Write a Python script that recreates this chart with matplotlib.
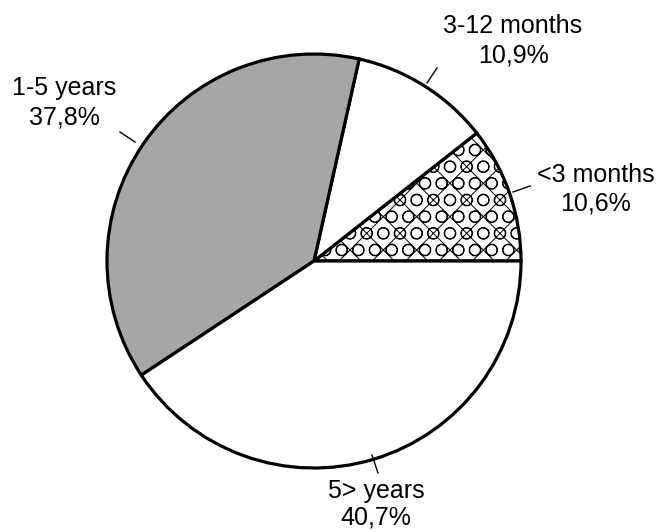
import matplotlib
matplotlib.use("Agg")
import matplotlib.pyplot as plt

labels = ["<3 months", "3-12 months", "1-5 years", "5> years"]
values = [10.6, 10.9, 37.8, 40.7]
pct_labels = ["10,6%", "10,9%", "37,8%", "40,7%"]

plt.rcParams['font.family'] = ['Liberation Sans', 'DejaVu Sans']
plt.rcParams['hatch.linewidth'] = 0.7
plt.rcParams['hatch.color'] = '#222222'

W, H = 662, 532
fig = plt.figure(figsize=(W / 100, H / 100), dpi=100)
ax = fig.add_axes([0, 0, 1, 1])

cx, cy, r = 314, H - 261, 207
faces = ['white', 'white', '#a6a6a6', 'white']
hatches = ['xO', None, None, None]
wedges, _ = ax.pie(values, startangle=0, counterclock=True, center=(cx, cy), radius=r,
                   colors=faces, frame=True,
                   wedgeprops=dict(edgecolor='black', linewidth=2.3))
for w, h in zip(wedges, hatches):
    if h:
        w.set_hatch(h)
ax.set_xlim(0, W)
ax.set_ylim(0, H)
ax.set_aspect('equal')
ax.axis('off')

fs = 18
# (x centre, baseline line 1, baseline line 2) in pixel coords from top
pos = [(596, 182, 210), (513, 33, 62), (64, 95, 124), (376, 498, 525)]
for lab, p, (x, y1, y2) in zip(labels, pct_labels, pos):
    ax.text(x, H - y1, lab, ha='center', va='baseline', fontsize=fs)
    ax.text(x, H - y2, p, ha='center', va='baseline', fontsize=fs)

leaders = [((513, 192), (530, 186)), ((427, 83), (437, 68)),
           ((135, 142), (120, 132)), ((372, 455), (378, 473))]
for (x0, y0), (x1, y1) in leaders:
    ax.plot([x0, x1], [H - y0, H - y1], color='black', lw=1)

fig.savefig("out.png", dpi=100)
